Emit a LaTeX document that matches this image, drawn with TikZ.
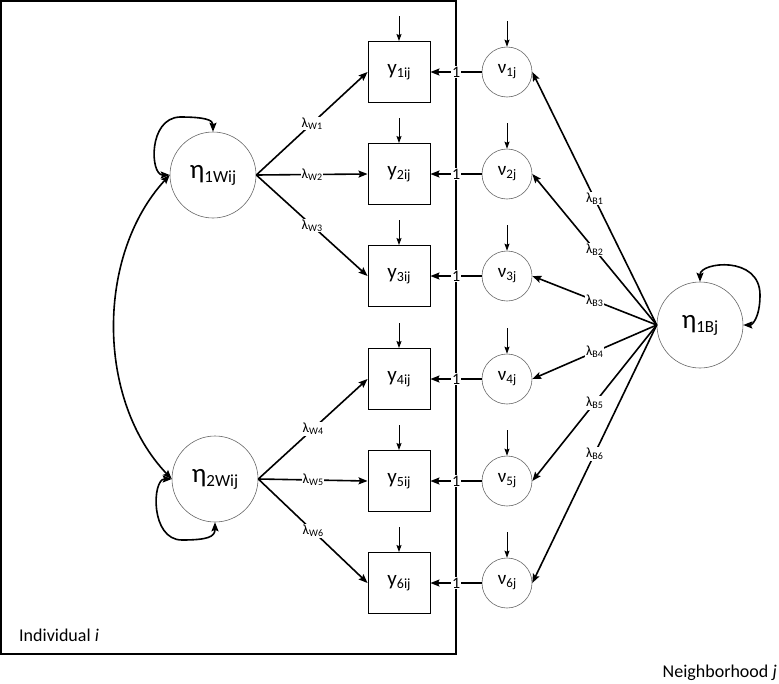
\documentclass[tikz,border=0pt]{standalone}
\usepackage{fontspec}
\setmainfont{Carlito}
\usetikzlibrary{arrows.meta}
\newcommand{\yvar}[1]{{\fontsize{21}{21}\selectfont y}\raisebox{-3.5pt}{\fontsize{14}{14}\selectfont #1}}
\newcommand{\nuvar}[1]{{\fontsize{19}{19}\selectfont ν}\raisebox{-3pt}{\fontsize{13}{13}\selectfont #1}}
\newcommand{\etavar}[1]{{\fontsize{27}{27}\selectfont η}\raisebox{-4pt}{\fontsize{17}{17}\selectfont #1}}
\newcommand{\lamvar}[1]{{\fontsize{14}{14}\selectfont λ}\raisebox{-2pt}{\fontsize{10}{10}\selectfont #1}}
\begin{document}
\begin{tikzpicture}[x=1pt,y=-1pt,
  obs/.style={draw, line width=0.9pt, minimum width=62pt, minimum height=61pt, inner sep=0pt},
  lat/.style={circle, draw=black!60, line width=0.6pt, inner sep=0pt},
  arr/.style={line width=1.6pt, -{Stealth[length=9pt,width=7pt,inset=1.5pt]}},
  dbl/.style={line width=1.6pt, {Stealth[length=9pt,width=7pt,inset=1.5pt]}-{Stealth[length=9pt,width=7pt,inset=1.5pt]}},
  err/.style={line width=0.9pt, -{Stealth[length=7pt,width=5pt,inset=1pt]}},
  lab/.style={fill=white, inner sep=1pt},
  one/.style={fill=white, inner sep=1pt, font=\fontsize{16}{16}\selectfont},
  frame/.style={draw, line width=1.5pt},
  txt/.style={font=\fontsize{18}{18}\selectfont, inner sep=0pt}
]
\useasboundingbox (0,0) rectangle (779,683);
% outer frame (Individual i)
\draw[frame] (1,1) rectangle (456,654);
\node[txt, anchor=west] (indiv) at (19,635) {Individual \textit{i}};
\node[txt, anchor=east] (neigh) at (777,673) {Neighborhood \textit{j}};

% latent factors
\node[lat, minimum size=86pt] (eW1) at (213,175) {\etavar{1Wij}};
\node[lat, minimum size=86pt] (eW2) at (215,479) {\etavar{2Wij}};
\node[lat, minimum size=86pt] (eB) at (700,325) {\etavar{1Bj}};

% indicators, random intercepts
\foreach \i/\r in {1/72,2/174,3/276,4/379,5/481,6/583}{
  \node[obs] (y\i) at (399,\r) {\yvar{\i ij}};
  \node[lat, minimum size=50pt] (n\i) at (507,\r) {\nuvar{\i j}};
  \coordinate (ey\i) at (399,\r-56);
  \coordinate (en\i) at (507,\r-51);
  \draw[err] (ey\i) -- (y\i);
  \draw[err] (en\i) -- (n\i);
  \draw[arr] (n\i.west) -- node[one] {1} (y\i.east);
  \draw[arr] (eB.west) -- node[lab] {\lamvar{B\i}} (n\i.east);
}

% within loadings
\foreach \i in {1,2,3}{
  \draw[arr] (eW1.east) -- node[lab] {\lamvar{W\i}} (y\i.west);
}
\foreach \i in {4,5,6}{
  \draw[arr] (eW2.east) -- node[lab] {\lamvar{W\i}} (y\i.west);
}

% variances
\draw[dbl] (eW1.west) .. controls (150,175) and (148,118) .. (180,117) .. controls (205,117) and (213,120) .. (eW1.north);
\draw[dbl] (eW2.west) .. controls (152,479) and (150,540) .. (182,540) .. controls (207,540) and (215,537) .. (eW2.south);
\draw[dbl] (eB.north) .. controls (700,262) and (760,255) .. (760,295) .. controls (760,318) and (752,325) .. (eB.east);
% covariance
\draw[dbl] (eW1.west) .. controls (96,255) and (96,400) .. (eW2.west);
\end{tikzpicture}
\end{document}
